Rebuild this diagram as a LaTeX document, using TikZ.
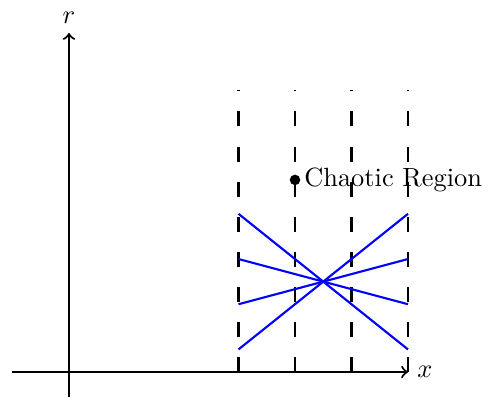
\documentclass[tikz,border=0pt]{standalone}
\usetikzlibrary{positioning}

\begin{document}
\begin{tikzpicture}[x=0.753cm, y=0.753cm,
          axis/.style={->, thick},
          guide/.style={thick, dash pattern=on 5.7pt off 7.6pt},
          orbit/.style={thick, blue}]
        \useasboundingbox (-1.221,-0.478) rectangle (7.451,6.584);
        % guide lines
        \foreach \i in {3,...,6} {
          \draw[guide] (\i,0) -- (\i,5);
        }
        % orbits through the crossing point
        \foreach \a/\b in {2.8/0.4, 0.4/2.8, 2/1.2, 1.2/2} {
          \draw[orbit] (3,\a) -- (6,\b);
        }
        % axes
        \coordinate (xs) at (-1,0);
        \coordinate (xe) at (6,0);
        \coordinate (ys) at (0,-0.45);
        \coordinate (ye) at (0,6);
        \draw[axis] (xs) -- (xe);
        \draw[axis] (ys) -- (ye);
        \node[right=0pt of xe] (xlab) {$x$};
        \node[above=0pt of ye] (rlab) {$r$};
        % chaotic point
        \coordinate (p) at (4,3.4);
        \fill (p) circle (2pt);
        \node[right=0pt of p] (chaos) {Chaotic Region};
      \end{tikzpicture}
\end{document}
